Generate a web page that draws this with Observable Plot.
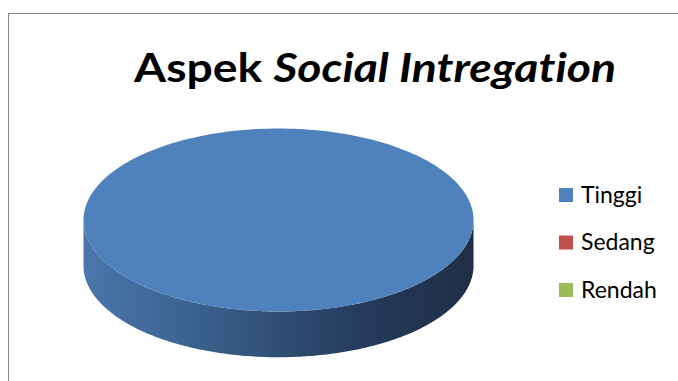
<!DOCTYPE html>
<html>
<head>
<meta charset="utf-8">
<script src="https://cdn.jsdelivr.net/npm/d3@7"></script>
<script src="https://cdn.jsdelivr.net/npm/@observablehq/plot@0.6"></script>
<style>
  html, body { margin: 0; padding: 0; background: #fff; }
  #wrap { position: relative; width: 678px; height: 381px; overflow: hidden; }
  #frame { position: absolute; left: 8px; top: 13px; width: 700px; height: 400px;
           border-left: 1.5px solid #878787; border-top: 1.5px solid #878787; box-sizing: border-box; }
  #chart { position: absolute; left: 0; top: 0; }
  text { font-variant-ligatures: none; font-feature-settings: "liga" 0, "clig" 0; }
</style>
</head>
<body>
<div id="wrap"><div id="frame"></div><div id="chart"></div></div>
<script>
// ---- data ----
const categories = ["Tinggi", "Sedang", "Rendah"];
const values = [100, 0, 0];
const colors = ["#4F81BD", "#C0504D", "#9BBB59"];
const titleMain = "Aspek ";
const titleItalic = "Social Intregation";

// ---- geometry (unit ellipse, depth in y-units) ----
const depth = 0.5;
const pie = d3.pie().sort(null).startAngle(0).endAngle(2 * Math.PI)(values);

function topFace(s) {
  const pts = [];
  const a0 = s.startAngle, a1 = s.endAngle;
  const full = (a1 - a0) >= 2 * Math.PI - 1e-9;
  if (!full) pts.push({x: 0, y: 0});
  const n = 240;
  for (let i = 0; i <= n; i++) {
    const a = a0 + (a1 - a0) * i / n;
    pts.push({x: Math.sin(a), y: Math.cos(a)});
  }
  if (!full) pts.push({x: 0, y: 0});
  return pts;
}
// front wall: portion of the rim facing the viewer
function sideWall(s) {
  const lo = Math.max(s.startAngle, Math.PI / 2), hi = Math.min(s.endAngle, 3 * Math.PI / 2);
  if (hi <= lo) return [];
  const n = 200, top = [], bot = [];
  for (let i = 0; i <= n; i++) {
    const a = lo + (hi - lo) * i / n;
    top.push({x: Math.sin(a), y: Math.cos(a)});
    bot.push({x: Math.sin(a), y: Math.cos(a) - depth});
  }
  return top.concat(bot.reverse());
}

const marks = [];
pie.forEach((s, i) => {
  if (s.endAngle - s.startAngle <= 0) return;
  const w = sideWall(s);
  if (w.length) marks.push(Plot.line(w, {x: "x", y: "y", fill: i === 0 ? "url(#sideGrad0)" : colors[i], stroke: "none", curve: "linear"}));
});
pie.forEach((s, i) => {
  if (s.endAngle - s.startAngle <= 0) return;
  marks.push(Plot.line(topFace(s), {x: "x", y: "y", fill: colors[i], stroke: "none", curve: "linear"}));
});

const plot = Plot.plot({
  width: 678, height: 381,
  marginTop: 0, marginRight: 0, marginBottom: 0, marginLeft: 0,
  x: {domain: [-1, 1], range: [83, 473], axis: null},
  y: {domain: [-1, 1], range: [311, 128], axis: null},
  style: {background: "transparent", overflow: "visible"},
  marks
});

const svg = d3.select(plot);
const defs = svg.insert("defs", ":first-child");
const g = defs.append("linearGradient").attr("id", "sideGrad0")
  .attr("gradientUnits", "userSpaceOnUse").attr("x1", 83).attr("x2", 473).attr("y1", 0).attr("y2", 0);
[[0, "#4a76ab"], [0.25, "#3d6492"], [0.5, "#2f4e73"], [0.75, "#24395a"], [1, "#1e2e46"]]
  .forEach(([o, c]) => g.append("stop").attr("offset", o).attr("stop-color", c));

// title
const t = svg.append("text").attr("x", 134).attr("y", 82).attr("text-anchor", "start")
  .attr("font-family", "Lato, 'Open Sans', sans-serif").attr("font-size", 41).attr("font-weight", "bold").attr("fill", "#000")
  .attr("textLength", 482).attr("lengthAdjust", "spacingAndGlyphs");
t.append("tspan").text(titleMain);
t.append("tspan").attr("font-style", "italic").text(titleItalic);

// legend
categories.forEach((c, i) => {
  const cy = 195 + i * 47.5;
  svg.append("rect").attr("x", 559).attr("y", cy - 7).attr("width", 14).attr("height", 14).attr("fill", colors[i]);
  svg.append("text").attr("x", 581).attr("y", cy + 7.5).attr("text-anchor", "start")
    .attr("font-family", "Lato, 'Open Sans', sans-serif")
    .attr("font-size", 23).attr("fill", "#000").text(c);
});

document.getElementById("chart").appendChild(plot);
</script>
</body>
</html>
